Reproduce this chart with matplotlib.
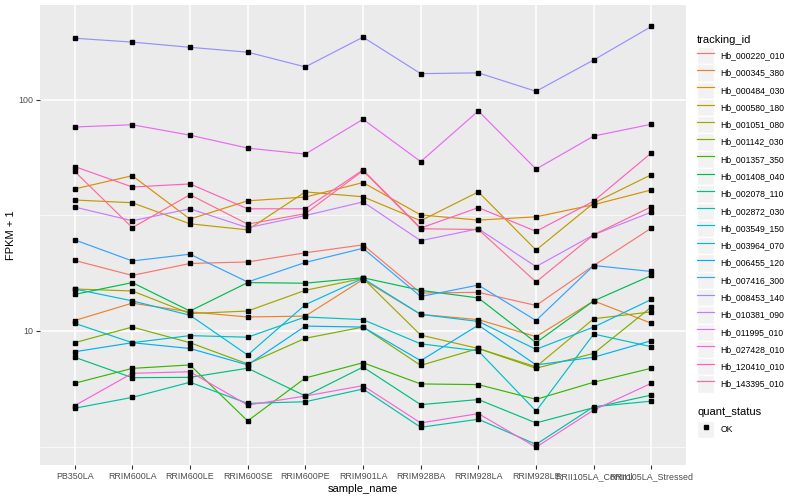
import matplotlib.pyplot as plt
from matplotlib.lines import Line2D
from matplotlib.patches import Rectangle
from matplotlib.legend_handler import HandlerLine2D

plt.rcParams['font.family'] = ['Liberation Sans', 'DejaVu Sans']

samples = ['PB350LA', 'RRIM600LA', 'RRIM600LE', 'RRIM600SE', 'RRIM600PE',
           'RRIM901LA', 'RRIM928BA', 'RRIM928LA', 'RRIM928LE',
           'RRII105LA_Control', 'RRII105LA_Stressed']

tracking_ids = ['Hb_000220_010', 'Hb_000345_380', 'Hb_000484_030', 'Hb_000580_180',
                'Hb_001051_080', 'Hb_001142_030', 'Hb_001357_350', 'Hb_001408_040',
                'Hb_002078_110', 'Hb_002872_030', 'Hb_003549_150', 'Hb_003964_070',
                'Hb_006455_120', 'Hb_007416_300', 'Hb_008453_140', 'Hb_010381_090',
                'Hb_011995_010', 'Hb_027428_010', 'Hb_120410_010', 'Hb_143395_010']

# ggplot default hue palette, 20 levels
colours = ['#F8766D', '#EA8331', '#D89000', '#C09B00', '#A3A500', '#7CAE00',
           '#39B600', '#00BB4E', '#00BF7D', '#00C1A3', '#00BFC4', '#00BAE0',
           '#00B0F6', '#35A2FF', '#9590FF', '#C77CFF', '#E76BF3', '#FA62DB',
           '#FF62BC', '#FF6C91']

# FPKM + 1, one list per gene, in sample order
hb_000220_010 = [20.2, 17.4, 19.6, 19.9, 21.8, 23.6, 14.6, 14.7, 12.9, 19.2, 27.9]
hb_000345_380 = [11.1, 13.2, 12.1, 11.5, 11.6, 16.7, 11.8, 11.2, 9.45, 13.5, 10.8]
hb_000484_030 = [41.2, 47.0, 30.5, 36.6, 38.0, 43.9, 31.8, 30.2, 31.2, 35.2, 40.8]
hb_000580_180 = [36.9, 35.9, 29.1, 27.4, 40.0, 38.1, 30.0, 40.0, 22.4, 35.8, 47.5]
hb_001051_080 = [15.2, 14.9, 11.9, 12.2, 15.0, 16.9, 9.6, 8.4, 7.0, 11.3, 12.1]
hb_001142_030 = [8.9, 10.4, 8.9, 7.2, 9.3, 10.4, 7.1, 8.4, 6.9, 8.0, 12.7]
hb_001357_350 = [5.94, 6.89, 7.13, 4.08, 6.26, 7.29, 5.90, 5.86, 5.06, 6.0, 6.9]
hb_001408_040 = [14.4, 16.2, 12.2, 16.2, 16.1, 17.0, 15.0, 13.9, 8.9, 13.5, 17.4]
hb_002078_110 = [7.7, 6.28, 6.3, 6.9, 5.23, 6.98, 4.80, 5.05, 4.0, 4.66, 5.28]
hb_002872_030 = [4.63, 5.16, 6.0, 4.86, 4.94, 5.61, 3.83, 4.15, 3.23, 4.7, 4.97]
hb_003549_150 = [10.8, 8.9, 9.55, 9.4, 11.5, 11.2, 8.8, 8.2, 4.5, 9.7, 8.55]
hb_003964_070 = [15.2, 13.5, 11.7, 7.87, 13.0, 16.9, 11.8, 11.0, 8.33, 10.4, 13.7]
hb_006455_120 = [8.13, 8.9, 8.4, 7.13, 10.5, 10.4, 7.44, 10.6, 7.13, 7.7, 9.08]
hb_007416_300 = [24.8, 20.1, 21.5, 16.3, 19.8, 22.8, 14.1, 15.8, 11.1, 19.2, 18.1]
hb_008453_140 = [185, 178, 169, 161, 139, 187, 130, 131, 109, 149, 208]
hb_010381_090 = [34.4, 30.0, 33.8, 28.0, 31.6, 36.2, 24.6, 27.7, 19.0, 26.1, 32.7]
hb_011995_010 = [76.4, 78.1, 70.4, 61.9, 58.3, 82.5, 54.1, 89.6, 50.2, 69.8, 78.5]
hb_027428_010 = [4.75, 6.56, 6.66, 4.78, 5.23, 5.8, 4.0, 4.39, 3.14, 4.55, 5.94]
hb_120410_010 = [51.5, 42.0, 43.3, 33.8, 33.8, 49.8, 27.9, 34.2, 27.0, 36.5, 59.0]
hb_143395_010 = [49.1, 28.0, 38.9, 29.0, 32.2, 49.4, 27.7, 27.5, 16.3, 26.1, 34.5]

series = [hb_000220_010, hb_000345_380, hb_000484_030, hb_000580_180,
          hb_001051_080, hb_001142_030, hb_001357_350, hb_001408_040,
          hb_002078_110, hb_002872_030, hb_003549_150, hb_003964_070,
          hb_006455_120, hb_007416_300, hb_008453_140, hb_010381_090,
          hb_011995_010, hb_027428_010, hb_120410_010, hb_143395_010]


class GreyKey(HandlerLine2D):
    # ggplot style legend key: grey box behind the glyph
    def create_artists(self, legend, orig_handle, xdescent, ydescent,
                       width, height, fontsize, trans):
        box = Rectangle((-xdescent, -ydescent), width, height,
                        facecolor='#F2F2F2', edgecolor='white', lw=1.0,
                        transform=trans)
        rest = super().create_artists(legend, orig_handle, xdescent, ydescent,
                                      width, height, fontsize, trans)
        return [box] + rest


fig = plt.figure(figsize=(8, 5), dpi=100)
ax = fig.add_axes([40 / 800, 35 / 500, 646 / 800, 460 / 500])
ax.set_facecolor('#EBEBEB')

x = list(range(len(samples)))
for vals, col in zip(series, colours):
    ax.plot(x, vals, color=col, lw=0.85, zorder=2)
    ax.plot(x, vals, ls='none', marker='s', ms=3.0, color='black', zorder=3)

ax.set_yscale('log')
ax.set_ylim(10 ** 0.42, 10 ** 2.411)
ax.set_xlim(-0.6, len(samples) - 0.4)
ax.set_yticks([10, 100])
ax.set_yticklabels(['10', '100'])
ax.set_yticks([10 ** 0.5, 10 ** 1.5], minor=True)
ax.yaxis.set_minor_formatter(plt.NullFormatter())
ax.set_xticks(x)
ax.set_xticklabels(samples)

ax.grid(True, which='major', color='white', lw=1.1)
ax.grid(True, which='minor', axis='y', color='white', lw=0.5)
ax.set_axisbelow(True)
for s in ax.spines.values():
    s.set_visible(False)
ax.tick_params(which='major', length=3, color='#333333', labelsize=6.4,
               labelcolor='#4D4D4D', pad=2)
ax.tick_params(which='minor', length=0)

ax.set_xlabel('sample_name', fontsize=8, labelpad=2)
ax.set_ylabel('FPKM + 1', fontsize=8, labelpad=1.5)

leg_kw = dict(loc='upper left', frameon=False, title_fontsize=8, fontsize=6.2,
              alignment='left', handlelength=2.0, handleheight=2.71,
              handletextpad=0.7, labelspacing=0.0, borderpad=0.0,
              borderaxespad=0.0, handler_map={Line2D: GreyKey()})

handles = [Line2D([], [], color=c, lw=0.85) for c in colours]
leg1 = fig.legend(handles, tracking_ids, title='tracking_id',
                  bbox_to_anchor=(697 / 800, 1 - 35 / 500), **leg_kw)
leg1._legend_box.sep = 1.5

ok = Line2D([], [], ls='none', marker='s', ms=3.0, color='black')
leg2 = fig.legend([ok], ['OK'], title='quant_status',
                  bbox_to_anchor=(697 / 800, 1 - 407 / 500), **leg_kw)
leg2._legend_box.sep = 3.0

fig.savefig('out.png', dpi=100)
